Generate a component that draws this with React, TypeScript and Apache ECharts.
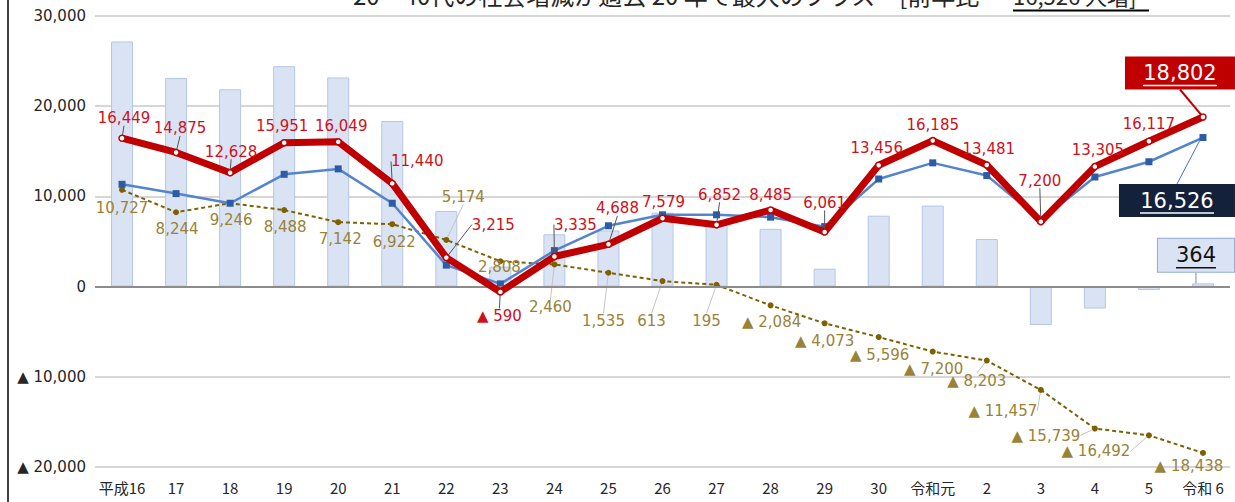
import React, { useEffect, useRef } from 'react';
import * as echarts from 'echarts';

const categories = ['平成16', '17', '18', '19', '20', '21', '22', '23', '24', '25', '26', '27', '28', '29', '30', '令和元', '2', '3', '4', '5', '令和 6'];

// total change (bars)
const totalChange = [27176, 23119, 21874, 24439, 23191, 18362, 8389, 2218, 5795, 6223, 8192, 7047, 6401, 1988, 7860, 8985, 5278, -4257, -2434, -375, 364];
// social change (red thick line)
const socialChange = [16449, 14875, 12628, 15951, 16049, 11440, 3215, -590, 3335, 4688, 7579, 6852, 8485, 6061, 13456, 16185, 13481, 7200, 13305, 16117, 18802];
// social change of 20-40s (blue line)
const socialYoung = [11340, 10310, 9240, 12450, 13050, 9240, 2380, 300, 3990, 6740, 7960, 7960, 7700, 6650, 11930, 13720, 12310, 7380, 12150, 13840, 16526];
// natural change (gold dashed line)
const naturalChange = [10727, 8244, 9246, 8488, 7142, 6922, 5174, 2808, 2460, 1535, 613, 195, -2084, -4073, -5596, -7200, -8203, -11457, -15739, -16492, -18438];

const titleMain = '20～40代の社会増減が過去 20 年で最大のプラス　[前年比';
const titleEmph = '16,526 人増]';

// label placement (label centre relative to point, px)
const RED_OFF = [[2, -20], [4, -24], [1, -21], [-2, -17], [3, -16], [25, -22], [47, -33], [-1, 24], [21, -32], [9, -36], [1, -16], [3, -30], [0, -15], [0, -29], [-2, -17], [0, -16], [2, -16], [-1, -41], [3, -17], [0, -17], [-23, -44]];
const RED_LEADER = [1, 1, 1, 0, 0, 1, 1, 1, 1, 1, 0, 1, 0, 1, 0, 0, 0, 1, 0, 0, 1];
const GOLD_OFF = [[0, 18], [1, 17], [1, 17], [1, 17], [2, 17], [2, 18], [17, -43], [-1, 6], [-4, 43], [-5, 48], [-11, 40], [-10, 36], [1, 17], [0, 18], [1, 18], [1, 17], [-10, 20], [-38, 21], [-49, 7], [-53, 16], [-14, 13]];
const GOLD_LEADER = [0, 0, 0, 0, 0, 0, 1, 0, 1, 1, 1, 1, 0, 0, 0, 0, 1, 1, 1, 1, 0];
const BLUE_BOX_OFF = [-26, 63];
const BAR_BOX_OFF = [-7, -28];

const FONT = '"DejaVu Sans", "Noto Sans CJK JP", sans-serif';
const CJK = '"Noto Sans CJK JP", "Noto Sans", sans-serif';
const fmt = (v: number) => (v < 0 ? '▲ ' : '') + Math.abs(v).toLocaleString('en-US');

export default function App() {
  const ref = useRef<HTMLDivElement>(null);
  useEffect(() => {
    document.body.style.margin = '0';
    const chart = echarts.init(ref.current!, undefined, { renderer: 'svg' });
    const last = categories.length - 1;

    const centerLayout = (offs: number[][]) => (p: any) => {
      const o = offs[p.dataIndex];
      if (!o) return {};
      return {
        x: p.rect.x + p.rect.width / 2 + o[0],
        y: p.rect.y + p.rect.height / 2 + o[1],
        align: 'center',
        verticalAlign: 'middle',
      };
    };

    const boxLabel = (v: number, bg: string, fg: string, padH: number, uw: number, border?: string) => ({
      show: true,
      formatter: `{a|${fmt(v)}}\n{u| }`,
      backgroundColor: bg,
      borderColor: border || bg,
      borderWidth: border ? 1 : 0,
      padding: [5, padH, 3, padH],
      rich: {
        a: { color: fg, fontSize: 21, lineHeight: 23, fontFamily: FONT, align: 'center' },
        u: { width: uw, height: 1.5, lineHeight: 2, fontSize: 1, backgroundColor: fg, align: 'center' },
      },
    });

    chart.setOption({
      animation: false,
      textStyle: { fontFamily: FONT },
      grid: { left: 95, right: 5, top: 16, bottom: 35 },
      xAxis: {
        type: 'category',
        data: categories,
        axisLine: { show: false, onZero: false },
        axisTick: { show: false },
        axisLabel: { interval: 0, color: '#262626', fontSize: 15, margin: 13, fontFamily: CJK },
      },
      yAxis: {
        type: 'value',
        min: -20000,
        max: 30000,
        interval: 10000,
        axisLine: { show: false },
        axisTick: { show: false },
        axisLabel: { color: '#262626', fontSize: 15, margin: 9, fontFamily: FONT, formatter: (v: number) => fmt(v) },
        splitLine: { lineStyle: { color: '#c8c8c8', width: 1.5 } },
      },
      graphic: [
        { type: 'line', shape: { x1: 8, y1: 0, x2: 8, y2: 502 }, style: { stroke: '#000', lineWidth: 1.5 }, z: 100 },
        { type: 'text', x: 353, y: 6, style: { text: titleMain, font: `24px ${CJK}`, fill: '#262626', textAlign: 'left', textVerticalAlign: 'bottom', align: 'left', verticalAlign: 'bottom' } },
        { type: 'text', x: 1013, y: 6, style: { text: titleEmph, font: `22px ${CJK}`, fill: '#262626', textAlign: 'left', textVerticalAlign: 'bottom', align: 'left', verticalAlign: 'bottom' } },
        { type: 'line', shape: { x1: 1013, y1: 10.5, x2: 1149, y2: 10.5 }, style: { stroke: '#000', lineWidth: 2 } },
      ],
      series: [
        {
          type: 'bar',
          name: '人口増減',
          barWidth: 22,
          z: 2,
          itemStyle: { color: '#dae3f3', borderColor: '#b4c7e7', borderWidth: 1 },
          data: totalChange.map((v, i) =>
            i === last
              ? { value: v, label: boxLabel(v, '#dae3f3', '#111', 18, 40, '#8faadc'), labelLine: { show: true, lineStyle: { color: '#6f8fc8', width: 1 } } }
              : { value: v, label: { show: false } }
          ),
          labelLayout: (p: any) => {
            if (p.dataIndex !== last) return {};
            return { x: p.rect.x + p.rect.width / 2 + BAR_BOX_OFF[0], y: p.rect.y + BAR_BOX_OFF[1], align: 'center', verticalAlign: 'middle' };
          },
          markLine: {
            silent: true,
            symbol: 'none',
            label: { show: false },
            lineStyle: { color: '#8c8c8c', width: 2, type: 'solid' },
            data: [{ yAxis: 0 }],
          },
        },
        {
          type: 'line',
          name: '自然増減',
          z: 3,
          data: naturalChange.map((v, i) => ({ value: v, labelLine: { show: !!GOLD_LEADER[i] } })),
          lineStyle: { color: '#7f6000', width: 2, type: [4, 3] },
          symbol: 'circle',
          symbolSize: 6,
          itemStyle: { color: '#7f6000' },
          label: { show: true, formatter: (p: any) => fmt(p.value), color: '#9a8237', fontSize: 15, fontFamily: FONT },
          labelLine: { lineStyle: { color: '#c4c4c4', width: 1 } },
          labelLayout: centerLayout(GOLD_OFF),
        },
        {
          type: 'line',
          name: '20～40代社会増減',
          z: 4,
          data: socialYoung.map((v, i) =>
            i === last
              ? { value: v, label: boxLabel(v, '#14213a', '#fff', 21, 74), labelLine: { show: true, lineStyle: { color: '#4472c4', width: 1 } } }
              : { value: v, label: { show: false } }
          ),
          lineStyle: { color: '#5584cf', width: 2.5 },
          symbol: 'rect',
          symbolSize: 7,
          itemStyle: { color: '#2e5ba6' },
          labelLayout: (p: any) => {
            if (p.dataIndex !== last) return {};
            return { x: p.rect.x + p.rect.width / 2 + BLUE_BOX_OFF[0], y: p.rect.y + p.rect.height / 2 + BLUE_BOX_OFF[1], align: 'center', verticalAlign: 'middle' };
          },
        },
        {
          type: 'line',
          name: '社会増減',
          z: 5,
          data: socialChange.map((v, i) =>
            i === last
              ? { value: v, label: boxLabel(v, '#c00000', '#fff', 18, 74), labelLine: { show: true, lineStyle: { color: '#c00000', width: 2 } } }
              : { value: v, labelLine: { show: !!RED_LEADER[i] } }
          ),
          lineStyle: { color: '#c00000', width: 7 },
          symbol: 'circle',
          symbolSize: 6,
          itemStyle: { color: '#fff', borderColor: '#c00000', borderWidth: 1.5 },
          label: { show: true, formatter: (p: any) => fmt(p.value), color: '#d0101b', fontSize: 15, fontFamily: FONT },
          labelLine: { lineStyle: { color: '#555', width: 1 } },
          labelLayout: centerLayout(RED_OFF),
        },
      ],
    });
    return () => chart.dispose();
  }, []);
  return <div ref={ref} style={{ width: 1235, height: 502 }} />;
}
